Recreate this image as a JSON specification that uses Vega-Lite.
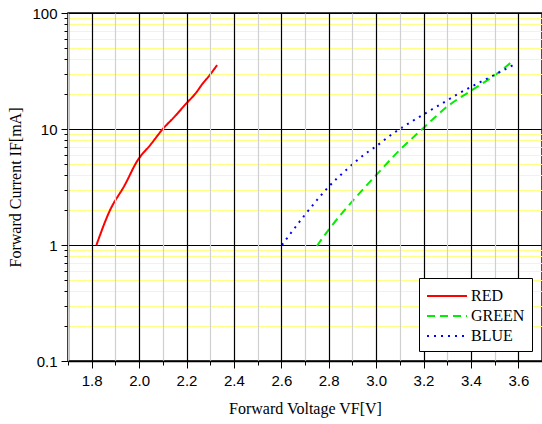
{
  "$schema": "https://vega.github.io/schema/vega-lite/v6.json",
  "autosize": {"type": "none"},
  "width": 474,
  "height": 348,
  "padding": {"left": 68, "top": 13, "right": 0, "bottom": 63},
  "background": "white",
  "config": {
    "view": {"stroke": "black", "strokeWidth": 1.5},
    "axis": {"domainColor": "black", "domainWidth": 1.5, "tickColor": "black", "labelFont": "Liberation Sans", "labelFontSize": 15, "labelColor": "black", "titleFont": "Liberation Serif", "titleFontSize": 16, "titleFontWeight": "normal", "titleColor": "black"}
  },
  "data": {
    "values": [
      {"series": "RED", "v": 1.82, "i": 1.0},
      {"series": "RED", "v": 1.876, "i": 1.97},
      {"series": "RED", "v": 1.94, "i": 3.3},
      {"series": "RED", "v": 1.992, "i": 5.3},
      {"series": "RED", "v": 2.05, "i": 7.4},
      {"series": "RED", "v": 2.1, "i": 10.0},
      {"series": "RED", "v": 2.15, "i": 12.8},
      {"series": "RED", "v": 2.198, "i": 16.5},
      {"series": "RED", "v": 2.24, "i": 20.5},
      {"series": "RED", "v": 2.268, "i": 24.6},
      {"series": "RED", "v": 2.297, "i": 29.0},
      {"series": "RED", "v": 2.329, "i": 35.5},
      {"series": "GREEN", "v": 2.75, "i": 0.98},
      {"series": "GREEN", "v": 2.802, "i": 1.37},
      {"series": "GREEN", "v": 2.914, "i": 2.57},
      {"series": "GREEN", "v": 2.998, "i": 3.96},
      {"series": "GREEN", "v": 3.097, "i": 6.5},
      {"series": "GREEN", "v": 3.195, "i": 10.0},
      {"series": "GREEN", "v": 3.307, "i": 16.0},
      {"series": "GREEN", "v": 3.391, "i": 20.8},
      {"series": "GREEN", "v": 3.51, "i": 30.0},
      {"series": "GREEN", "v": 3.573, "i": 37.9},
      {"series": "BLUE", "v": 2.603, "i": 1.0},
      {"series": "BLUE", "v": 2.633, "i": 1.21},
      {"series": "BLUE", "v": 2.694, "i": 1.76},
      {"series": "BLUE", "v": 2.76, "i": 2.57},
      {"series": "BLUE", "v": 2.795, "i": 3.1},
      {"series": "BLUE", "v": 2.875, "i": 4.46},
      {"series": "BLUE", "v": 2.954, "i": 6.1},
      {"series": "BLUE", "v": 2.996, "i": 7.0},
      {"series": "BLUE", "v": 3.073, "i": 9.2},
      {"series": "BLUE", "v": 3.113, "i": 10.4},
      {"series": "BLUE", "v": 3.193, "i": 13.1},
      {"series": "BLUE", "v": 3.272, "i": 16.3},
      {"series": "BLUE", "v": 3.352, "i": 20.4},
      {"series": "BLUE", "v": 3.43, "i": 24.8},
      {"series": "BLUE", "v": 3.51, "i": 30.0},
      {"series": "BLUE", "v": 3.59, "i": 36.7}
    ]
  },
  "mark": {"type": "line", "strokeWidth": 2, "clip": true, "interpolate": "monotone"},
  "encoding": {
    "x": {
      "field": "v", "type": "quantitative",
      "scale": {"domain": [1.7, 3.7], "nice": false, "zero": false},
      "axis": {
        "title": "Forward Voltage VF[V]",
        "zindex": 1,
        "values": [1.7, 1.8, 1.9, 2.0, 2.1, 2.2, 2.3, 2.4, 2.5, 2.6, 2.7, 2.8, 2.9, 3.0, 3.1, 3.2, 3.3, 3.4, 3.5, 3.6, 3.7],
        "labelExpr": "abs(datum.value*5 - round(datum.value*5)) < 0.001 ? format(datum.value, '.1f') : ''",
        "grid": true,
        "gridColor": {"condition": {"test": "abs(datum.value*5 - round(datum.value*5)) < 0.001", "value": "black"}, "value": "#d0d0d0"},
        "gridWidth": 1.2,
        "tickSize": {"condition": {"test": "abs(datum.value*5 - round(datum.value*5)) < 0.001", "value": 7}, "value": 4},
        "labelPadding": 5,
        "titlePadding": 12,
        "labelFlush": false,
        "labelOverlap": false
      }
    },
    "y": {
      "field": "i", "type": "quantitative",
      "scale": {"type": "log", "domain": [0.1, 100], "nice": false},
      "axis": {
        "title": "Forward Current IF[mA]",
        "values": [0.1, 0.2, 0.3, 0.4, 0.5, 0.6, 0.7, 0.8, 0.9, 1, 2, 3, 4, 5, 6, 7, 8, 9, 10, 20, 30, 40, 50, 60, 70, 80, 90, 100],
        "labelExpr": "abs(log(datum.value)/LN10 - round(log(datum.value)/LN10)) < 0.001 ? format(datum.value, '~g') : ''",
        "grid": true,
        "gridColor": {"condition": {"test": "abs(log(datum.value)/LN10 - round(log(datum.value)/LN10)) < 0.001", "value": "black"}, "value": "#ffff88"},
        "gridWidth": 1.2,
        "tickSize": {"condition": {"test": "abs(log(datum.value)/LN10 - round(log(datum.value)/LN10)) < 0.001", "value": 7}, "value": 4},
        "labelPadding": 4,
        "titlePadding": 8,
        "labelFlush": false,
        "labelOverlap": false
      }
    },
    "color": {
      "field": "series", "type": "nominal",
      "scale": {"domain": ["RED", "GREEN", "BLUE"], "range": ["#ff0000", "#00ee00", "#0000ff"]},
      "legend": {
        "title": null, "orient": "none", "legendX": 351, "legendY": 265, "zindex": 2,
        "strokeColor": "black", "fillColor": "white", "padding": 7,
        "symbolType": "M-1,0H3", "symbolSize": 400, "symbolStrokeWidth": 2,
        "labelFont": "Liberation Serif", "labelFontSize": 16, "labelColor": "black",
        "labelOffset": 23, "rowPadding": 1
      }
    },
    "strokeDash": {
      "field": "series", "type": "nominal",
      "scale": {"domain": ["RED", "GREEN", "BLUE"], "range": [[1, 0], [8, 5], [2, 5]]},
      "legend": {
        "title": null, "orient": "none", "legendX": 351, "legendY": 265, "zindex": 2,
        "strokeColor": "black", "fillColor": "white", "padding": 7,
        "symbolType": "M-1,0H3", "symbolSize": 400, "symbolStrokeWidth": 2,
        "labelFont": "Liberation Serif", "labelFontSize": 16, "labelColor": "black",
        "labelOffset": 23, "rowPadding": 1
      }
    }
  }
}
